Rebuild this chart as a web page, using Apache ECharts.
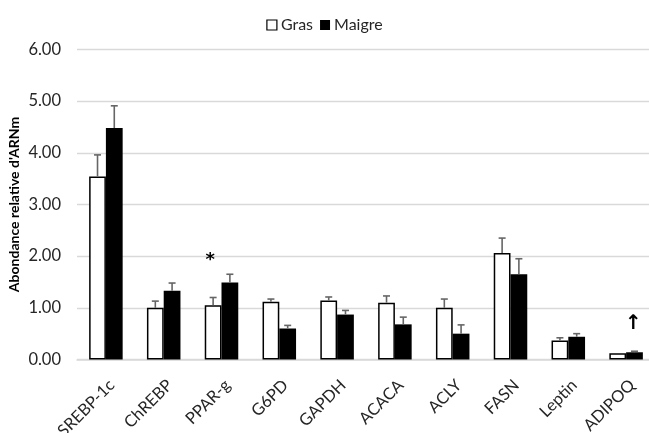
<!DOCTYPE html>
<html>
<head>
<meta charset="utf-8">
<script src="https://cdn.jsdelivr.net/npm/echarts@6/dist/echarts.min.js"></script>
<style>
html,body{margin:0;padding:0;background:#fff;}
#chart{width:649px;height:433px;}
</style>
</head>
<body>
<div id="chart"></div>
<script>
var categories = ['SREBP-1c','ChREBP','PPAR-g','G6PD','GAPDH','ACACA','ACLY','FASN','Leptin','ADIPOQ'];
var gras      = [3.54, 1.00, 1.05, 1.12, 1.14, 1.10, 1.00, 2.06, 0.37, 0.12];
var grasErr   = [0.42, 0.13, 0.15, 0.05, 0.07, 0.13, 0.17, 0.29, 0.05, 0.00];
var maigre    = [4.48, 1.33, 1.49, 0.60, 0.87, 0.68, 0.50, 1.65, 0.44, 0.14];
var maigreErr = [0.43, 0.15, 0.16, 0.06, 0.08, 0.14, 0.17, 0.30, 0.06, 0.02];
var yTicks = [0, 1, 2, 3, 4, 5, 6];
// annotations: [category index, series index (0 Gras, 1 Maigre), value, text]
var annotations = [[2, 0, 1.99, '*'], [9, 1, 0.70, '\u2191']];

var FONT = 'Lato, "Open Sans", sans-serif';
var BAR_W = 0.29;

var errData = [];
for (var i = 0; i < categories.length; i++) {
  errData.push([i, 0, gras[i], gras[i] + grasErr[i]]);
  errData.push([i, 1, maigre[i], maigre[i] + maigreErr[i]]);
}

function barCenter(api, catIdx, s) {
  var c = api.coord([catIdx, 0]);
  var bw = api.size([1, 0])[0] * BAR_W;
  return c[0] + (s === 0 ? -bw / 2 : bw / 2);
}

var chart = echarts.init(document.getElementById('chart'), null, {renderer: 'canvas'});
chart.setOption({
  animation: false,
  backgroundColor: '#fff',
  textStyle: {fontFamily: FONT},
  legend: {
    top: 12,
    left: 'center',
    itemWidth: 10,
    itemHeight: 10,
    itemGap: 7,
    textStyle: {fontFamily: FONT, fontSize: 16, color: '#262626', padding: [0, 0, 0, -1]},
    data: [
      {name: 'Gras', icon: 'rect', itemStyle: {color: '#fff', borderColor: '#000', borderWidth: 1.2}},
      {name: 'Maigre', icon: 'rect', itemStyle: {color: '#000'}}
    ]
  },
  grid: {left: 77, top: 49.5, width: 578, bottom: 73.5, containLabel: false, outerBoundsMode: 'none'},
  xAxis: {
    type: 'category',
    data: categories,
    axisLine: {lineStyle: {color: '#d9d9d9', width: 1.5}},
    axisTick: {show: false},
    axisLabel: {rotate: 45, fontSize: 16.5, color: '#262626', fontFamily: FONT, margin: 17, interval: 0, verticalAlign: 'top'}
  },
  yAxis: {
    type: 'value',
    min: yTicks[0],
    max: yTicks[yTicks.length - 1],
    interval: 1,
    name: "Abondance relative d'ARNm",
    nameLocation: 'middle',
    nameGap: 56,
    nameMoveOverlap: false,
    nameTextStyle: {fontSize: 14, fontWeight: 'bold', color: '#000', fontFamily: FONT},
    axisLine: {show: false},
    axisTick: {show: false},
    axisLabel: {formatter: function (v) { return v.toFixed(2); }, fontSize: 16.5, color: '#262626', fontFamily: FONT, margin: 16},
    splitLine: {lineStyle: {color: '#d9d9d9', width: 1.3}}
  },
  series: [
    {
      name: 'Gras', type: 'bar', data: gras,
      barWidth: (BAR_W * 100) + '%', barGap: '0%',
      itemStyle: {color: '#fff', borderColor: '#000', borderWidth: 1.5}
    },
    {
      name: 'Maigre', type: 'bar', data: maigre,
      barWidth: (BAR_W * 100) + '%', barGap: '0%',
      itemStyle: {color: '#000', borderColor: '#000', borderWidth: 0}
    },
    {
      type: 'custom', name: 'err', z: 5, silent: true,
      data: errData,
      renderItem: function (params, api) {
        var cat = api.value(0), s = api.value(1);
        var x = barCenter(api, cat, s);
        var y0 = api.coord([cat, api.value(2)])[1];
        var y1 = api.coord([cat, api.value(3)])[1];
        if (Math.abs(y0 - y1) < 0.5) return null;
        var st = {stroke: '#666', lineWidth: 1.6};
        return {type: 'group', children: [
          {type: 'line', shape: {x1: x, y1: y0, x2: x, y2: y1}, style: st},
          {type: 'line', shape: {x1: x - 3.5, y1: y1, x2: x + 3.5, y2: y1}, style: st}
        ]};
      }
    },
    {
      type: 'custom', name: 'annot', z: 6, silent: true,
      data: annotations,
      renderItem: function (params, api) {
        var cat = api.value(0), s = api.value(1);
        var x = barCenter(api, cat, s);
        var y = api.coord([cat, api.value(2)])[1];
        var t = annotations[params.dataIndex][3];
        var isStar = t === '*';
        return {type: 'text', x: x + (isStar ? -3 : -1), y: y + (isStar ? 4 : 0), style: {
          text: t, fill: '#000', font: 'bold ' + (isStar ? 18 : 20) + 'px "DejaVu Sans", sans-serif',
          textAlign: 'center', textVerticalAlign: 'middle'
        }};
      }
    }
  ]
});
</script>
</body>
</html>
